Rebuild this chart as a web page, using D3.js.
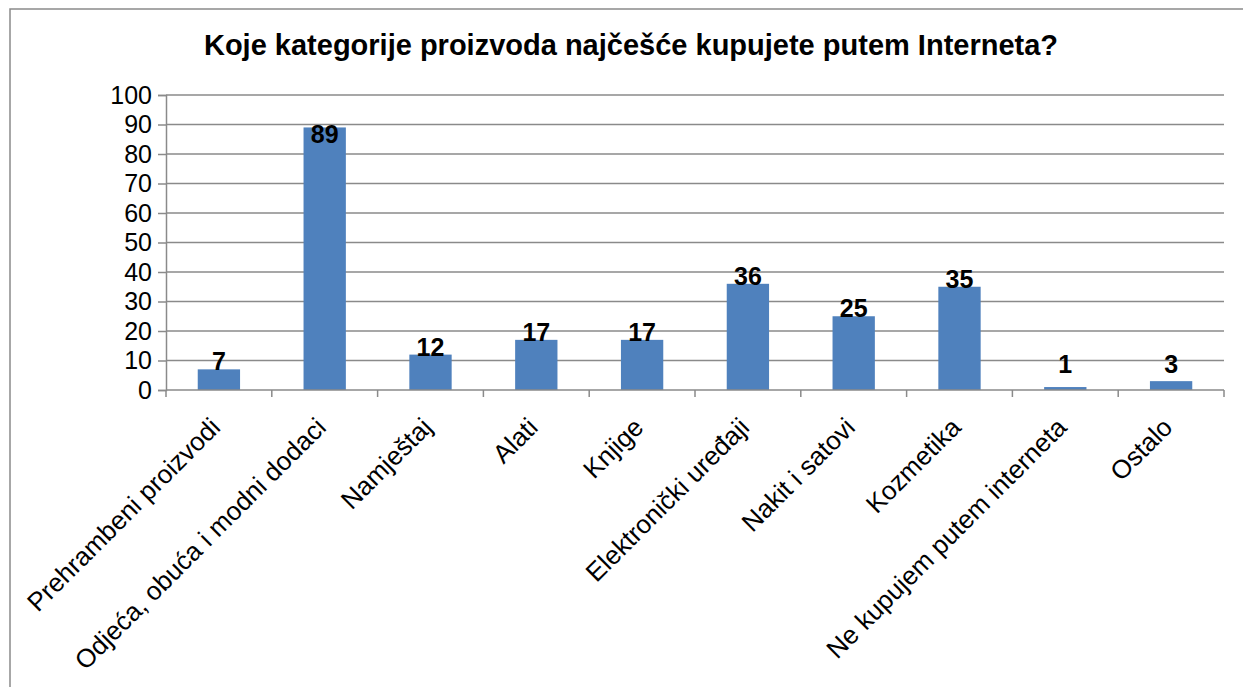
<!DOCTYPE html>
<html>
<head>
<meta charset="utf-8">
<script src="https://cdn.jsdelivr.net/npm/d3@7"></script>
<style>
  body { margin: 0; background: #fff; }
  svg { display: block; font-family: Arial, 'Liberation Sans', sans-serif; }
</style>
</head>
<body>
<script>
const categories = [
  'Prehrambeni proizvodi',
  'Odjeća, obuća i modni dodaci',
  'Namještaj',
  'Alati',
  'Knjige',
  'Elektronički uređaji',
  'Nakit i satovi',
  'Kozmetika',
  'Ne kupujem putem interneta',
  'Ostalo'
];
const values = [7, 89, 12, 17, 17, 36, 25, 35, 1, 3];
const yTicks = [0, 10, 20, 30, 40, 50, 60, 70, 80, 90, 100];
const title = 'Koje kategorije proizvoda najčešće kupujete putem Interneta?';

const width = 1243;
const height = 687;
const margin = { top: 95, left: 166, right: 19, bottom: 297 };
const innerW = width - margin.left - margin.right;
const innerH = height - margin.top - margin.bottom;
const gridColor = '#8a8a8a';

const svg = d3.select('body').append('svg')
  .attr('width', width)
  .attr('height', height);

// outer chart border (right/bottom run off the picture)
svg.append('rect')
  .attr('x', 10).attr('y', 9)
  .attr('width', 1400).attr('height', 1000)
  .attr('fill', 'none')
  .attr('stroke', gridColor)
  .attr('stroke-width', 1.5);

svg.append('text')
  .attr('x', 631).attr('y', 55)
  .attr('text-anchor', 'middle')
  .attr('font-size', 29)
  .attr('font-weight', 'bold')
  .text(title);

const x = d3.scaleBand()
  .domain(categories)
  .range([0, innerW])
  .paddingInner(0.6)
  .paddingOuter(0.3);

const y = d3.scaleLinear()
  .domain([0, 100])
  .range([innerH, 0]);

const g = svg.append('g').attr('transform', `translate(${margin.left}, ${margin.top})`);

// gridlines
g.append('g')
  .selectAll('line')
  .data(yTicks.filter(d => d > 0))
  .enter().append('line')
    .attr('x1', 0).attr('x2', innerW)
    .attr('y1', d => y(d)).attr('y2', d => y(d))
    .attr('stroke', gridColor)
    .attr('stroke-width', 1.5);

// y axis
const yAxis = d3.axisLeft(y).tickValues(yTicks).tickSize(8).tickPadding(6);
g.append('g').call(yAxis)
  .call(s => s.select('.domain').attr('stroke', gridColor).attr('stroke-width', 1.5))
  .call(s => s.selectAll('.tick line').attr('stroke', gridColor).attr('stroke-width', 1.5))
  .call(s => s.selectAll('.tick text').attr('font-size', 25).attr('fill', '#000').attr('font-family', null));

// bars
g.selectAll('rect.bar')
  .data(values)
  .enter().append('rect')
    .attr('class', 'bar')
    .attr('fill', '#4f81bd')
    .attr('x', (d, i) => x(categories[i]))
    .attr('width', x.bandwidth())
    .attr('y', d => y(d))
    .attr('height', d => innerH - y(d));

// x axis: ticks at category boundaries
const bounds = d3.range(categories.length + 1).map(i => i * innerW / categories.length);
const xAxisG = g.append('g').attr('transform', `translate(0, ${innerH})`);
xAxisG.append('line')
  .attr('x1', 0).attr('x2', innerW)
  .attr('stroke', gridColor).attr('stroke-width', 1.5);
xAxisG.selectAll('line.tk')
  .data(bounds)
  .enter().append('line')
    .attr('class', 'tk')
    .attr('x1', d => d).attr('x2', d => d)
    .attr('y1', 0).attr('y2', 7)
    .attr('stroke', gridColor).attr('stroke-width', 1.5);

xAxisG.selectAll('text')
  .data(categories)
  .enter().append('text')
    .attr('text-anchor', 'end')
    .attr('font-size', 26)
    .attr('transform', d => `translate(${x(d) + x.bandwidth() / 2 + 3}, 39) rotate(-45)`)
    .text(d => d);

// data labels
g.selectAll('text.val')
  .data(values)
  .enter().append('text')
    .attr('class', 'val')
    .attr('text-anchor', 'middle')
    .attr('font-size', 25)
    .attr('font-weight', 'bold')
    .attr('x', (d, i) => x(categories[i]) + x.bandwidth() / 2)
    .attr('y', d => Math.max(Math.min(y(d) + 1, innerH - 17), 48))
    .text(d => d);
</script>
</body>
</html>
